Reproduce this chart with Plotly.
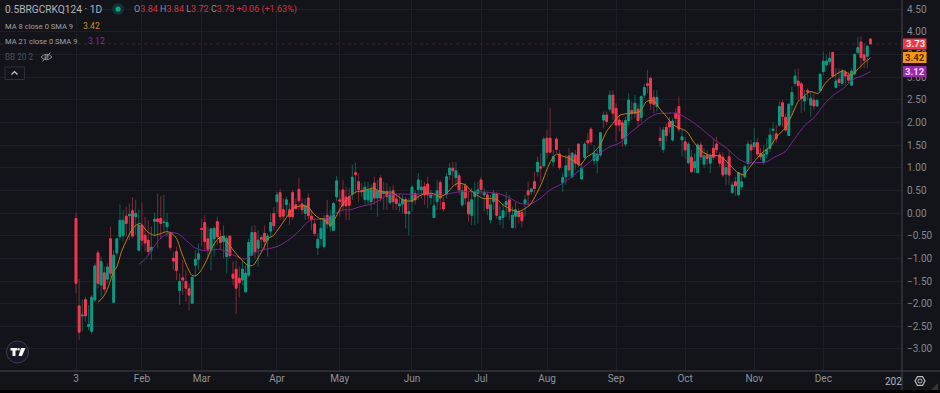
import plotly.graph_objects as go

# ---- data ----
opens = [
-.12,-2.05,-2.27,-1.91,-2.50,-2.61,-1.92,-.88,-1.59,-1.32,
-1.46,-.57,-1.97,-.88,-.52,-.50,-.07,-.06,.05,-.08,
-.82,-.27,-.49,-.60,-.82,-.18,-.13,-.12,-.21,-.30,
-.45,-1.0,-.85,-1.71,-1.43,-1.51,-1.67,-1.99,-1.15,-1.02,
-.34,-.21,-.57,-.80,-.57,-.19,-.54,-.63,-.96,-.51,
-1.35,-1.24,-1.44,-1.48,-1.74,-1.37,-.93,-.43,-.78,-.54,
-.45,-.60,-.40,-.01,.25,.45,.07,.19,
.07,.45,.18,.52,.20,-.01,.33,-.07,-.24,-.77,
-.56,-.74,-.05,-.29,-.38,.36,.29,.51,.35,.36,
.42,.89,.69,.50,.30,.29,.25,.66,.33,.77,
.43,.47,.23,.49,.31,.16,.20,.30,-.02,.25,
.43,.52,.51,.58,.64,.34,-.10,.25,.67,.23,
.42,.85,.99,.78,.82,.18,.60,.24,-.05,.36,
.43,.73,.40,.40,-.15,.25,.43,-.14,-.10,.18,
.29,-.32,-.07,.03,.01,.21,.49,
.47,.69,.91,1.02,1.04,1.65,1.65,1.13,1.63,1.30,
.67,.80,1.26,.80,1.28,1.52,.75,1.23,1.60,1.85,
1.16,1.16,1.28,2.05,2.16,2.29,2.60,2.31,2.05,1.99,
1.52,2.04,2.26,2.20,2.29,2.11,2.60,2.85,2.97,2.55,
2.35,1.65,1.40,1.89,2.01,1.61,2.20,2.35,1.61,1.57,
1.11,1.23,1.0,.89,1.50,1.08,1.28,1.10,1.43,1.52,
1.28,1.23,.86,1.24,.45,.69,.40,.58,.80,1.09,
1.50,1.46,1.55,1.31,1.13,1.30,1.42,1.82,1.75,
1.94,2.43,2.11,1.71,2.38,2.86,2.91,2.85,2.47,2.70,
2.38,2.49,2.36,2.70,3.12,3.27,3.34,3.54,2.77,2.95,
2.86,3.10,3.04,2.82,3.07,3.54,3.77,3.49,3.46,3.84]
highs = [
.01,-1.46,-1.91,-1.85,-2.03,-1.81,-1.11,-.82,-.96,-1.18,
-1.11,-.30,-.82,-.56,.19,.07,.14,.21,.35,.29,
.07,.23,-.08,-.16,-.30,.01,.43,.37,.40,.0,
-.41,-.85,-.74,-1.33,-1.04,-1.26,-1.55,-1.40,-.82,-.67,
-.12,-.05,-.30,-.34,-.30,-.08,-.38,-.27,-.51,-.49,
-1.07,-1.04,-1.18,-1.04,-1.15,-.56,-.28,-.27,-.38,-.49,
-.27,-.45,-.01,.13,.47,.54,.32,.36,
.21,.51,.32,.77,.33,.32,.43,.07,-.12,-.45,
-.16,-.05,.29,.07,.25,.82,.51,.73,.58,.55,
1.07,1.11,.88,.66,.69,.69,.62,.80,.73,.84,
.69,.66,.58,.62,.43,.43,.40,.36,.33,.62,
.51,.88,.73,.69,.80,.51,.40,.73,.73,.36,
.88,1.10,1.12,1.13,.88,.62,.66,.47,.55,.69,
.69,.80,.55,.47,.40,.51,.47,.18,.21,.47,
.40,.14,.25,.10,.07,.40,.69,
.55,.91,1.24,1.32,1.68,1.83,2.32,1.39,1.68,1.39,
.88,1.28,1.43,1.35,1.39,1.54,1.10,1.57,1.76,1.90,
1.50,1.39,1.79,2.24,2.24,2.71,2.71,2.42,2.16,2.05,
2.13,2.64,2.46,2.60,2.42,2.60,2.85,3.16,3.01,2.71,
2.71,1.90,1.90,1.98,2.12,2.09,2.31,2.57,1.85,1.68,
1.57,1.39,1.32,1.54,1.57,1.43,1.39,1.32,1.65,1.68,
1.35,1.35,1.17,1.39,.69,.80,.91,.88,1.06,1.60,
1.61,1.87,1.65,1.43,1.50,1.65,1.88,2.0,1.95,
2.46,2.49,2.20,2.42,2.79,3.17,3.19,2.90,2.71,2.75,
2.68,2.64,2.53,3.08,3.56,3.49,3.56,3.56,3.19,3.19,
3.19,3.15,3.12,3.19,3.52,3.89,3.90,3.74,3.70,3.84]
lows = [
-1.77,-2.80,-2.61,-2.40,-2.58,-2.67,-1.96,-1.66,-1.85,-1.74,
-1.55,-1.41,-1.99,-.96,-.60,-.63,-.52,-.60,-.56,-.49,
-.85,-.74,-.85,-.93,-1.04,-.52,-.78,-.56,-.45,-.52,
-.84,-1.26,-1.48,-2.03,-1.81,-1.96,-2.15,-2.0,-1.40,-1.26,
-.74,-.82,-1.0,-1.26,-.96,-.71,-.82,-1.0,-1.33,-1.0,
-1.59,-2.23,-1.86,-1.59,-1.76,-1.41,-.95,-1.0,-1.19,-.78,
-.82,-.96,-.52,-.38,-.01,-.16,-.16,-.08,
-.26,-.15,.07,.07,-.03,-.15,-.15,-.38,-.52,-.93,
-.71,-.78,-.34,-.41,-.40,.25,-.08,.03,-.16,-.16,
.29,.43,.25,.36,.18,.18,.07,.18,-.08,.25,
.07,.07,.18,.07,.07,.03,-.01,-.34,-.49,.03,
.18,.29,.32,.18,.10,.18,-.12,.07,.07,.03,
.32,.73,.62,.58,.40,.14,.18,-.19,-.27,-.27,
-.23,.40,.03,-.05,-.23,.07,-.12,-.27,-.34,-.08,
-.16,-.34,-.34,-.23,-.32,-.08,.14,
.40,.43,.80,.69,1.0,1.20,1.32,1.02,1.32,.95,
.47,.62,.80,.76,.95,1.02,.73,1.17,1.32,1.50,
1.06,.88,1.24,1.87,1.94,2.24,2.05,1.57,1.80,1.46,
1.46,1.94,2.05,2.09,1.90,2.01,2.53,2.64,2.27,2.20,
2.24,1.46,1.32,1.57,1.76,1.57,1.98,1.79,1.24,1.20,
1.06,.88,.88,.88,1.17,.99,1.06,.88,1.17,1.32,
1.02,.80,.62,.62,.42,.38,.38,.51,.76,1.0,
1.10,1.39,1.24,1.17,1.06,1.20,1.35,1.50,1.55,
1.90,1.90,1.79,1.70,2.16,2.79,2.49,2.20,2.24,2.49,
2.13,2.27,2.34,2.68,3.04,3.23,3.27,2.99,2.75,2.79,
2.80,2.82,2.86,2.80,3.04,3.49,3.19,3.19,3.19,3.72]
closes = [
-1.55,-2.63,-2.25,-2.27,-2.46,-1.86,-1.17,-1.55,-1.07,-1.68,
-1.19,-1.33,-.93,-.57,-.16,-.16,-.23,-.03,-.51,-.01,
-.27,-.60,-.66,-.85,-.76,-.14,-.19,-.23,-.20,-.21,
-.76,-1.06,-1.27,-1.51,-1.48,-1.66,-1.81,-1.42,-1.02,-.90,
-.36,-.63,-.80,-.35,-.34,-.52,-.65,-.51,-.56,-.94,
-1.44,-1.66,-1.54,-1.24,-1.33,-.65,-.43,-.85,-.60,-.58,
-.63,-.51,-.21,-.28,.40,-.08,-.07,.29,
-.08,-.08,.10,.27,.07,.16,-.06,-.14,-.45,-.58,
-.34,-.12,-.24,-.07,.21,.71,.26,.16,.16,.17,
.79,.85,.51,.48,.57,.51,.52,.33,.49,.33,
.47,.36,.43,.25,.21,.20,.30,-.01,.03,.57,
.29,.73,.57,.40,.40,.40,.16,.49,.33,.09,
.80,.99,.93,.93,.51,.49,.33,-.02,.29,.47,
.51,.52,.45,.10,.18,.43,-.05,-.08,.05,.25,
.03,-.05,.07,-.08,-.17,.29,.40,
.53,.54,1.12,.99,1.63,1.34,1.34,1.24,1.40,1.0,
.78,1.04,.95,1.32,1.10,1.07,.99,1.52,1.55,1.57,
1.32,1.30,1.77,2.16,2.02,2.60,2.20,1.94,1.94,1.65,
2.04,2.49,2.20,2.42,2.04,2.57,2.77,2.82,2.42,2.40,
2.55,1.60,1.83,1.71,1.90,2.03,2.09,1.85,1.68,1.39,
1.52,.91,1.13,1.50,1.24,1.26,1.20,1.26,1.23,1.40,
1.10,.84,1.0,.84,.62,.60,.89,.69,1.02,1.52,
1.39,1.55,1.30,1.24,1.30,1.40,1.72,1.85,1.64,
2.35,2.13,1.83,2.40,2.66,3.02,2.81,2.53,2.57,2.67,
2.53,2.36,2.48,3.06,3.35,3.35,3.41,3.02,2.91,2.88,
3.13,3.02,2.93,3.13,3.50,3.65,3.43,3.37,3.68,3.73]
assert len(opens) == len(highs) == len(lows) == len(closes), (len(opens), len(highs), len(lows), len(closes))
bars = list(range(len(opens)))

ma8_bars = [7,8.7,10.3,11.9,13,14.5,16.1,17.7,19.1,20.4,21.4,22.7,24.8,26.8,28.9,30.5,32,33.7,35.2,36.8,37.9,39.5,41.6,43.2,44.8,46.4,48,50.1,52.8,54.9,56.5,58.1,59.7,61.3,62.8,
            65,67,69.2,71.9,74,75.6,77.5,78.8,81,82.5,84,86,87.8,89.4,91,92.6,94.7,96.3,98.4,100.5,102.7,104.8,106.9,109,111,113.8,115.9,118,120.2,121.8,124,125.5,127.6,129.7,131.9,134,136,138.7,140.9,143,
            144.6,146.7,148.5,149.9,151.5,153,154.7,157,159,160.5,162.6,164.8,166.9,169,171,173.3,176.4,179.6,181.7,183.9,186,188,190.3,192.4,194.5,196.6,199.3,202,205,207.7,
            210.4,212.5,214.7,216.8,218.9,221,223.1,225.8,228,230,232.2,233.8,236.4,238.6,240.2,242.3,244.4,247,249.2,250.8,253]
ma8_vals = [-1.97,-1.85,-1.63,-1.30,-1.19,-.85,-.60,-.38,-.27,-.23,-.30,-.41,-.49,-.46,-.41,-.45,-.56,-.89,-1.15,-1.37,-1.39,-1.30,-1.04,-.78,-.60,-.52,-.63,-.82,-1.04,-1.16,-1.15,-.98,-.78,-.56,-.50,
            -.30,-.10,.10,.16,.13,-.01,-.12,-.13,-.27,-.12,.08,.29,.40,.47,.47,.51,.55,.49,.46,.46,.36,.27,.27,.36,.43,.43,.36,.43,.60,.66,.62,.51,.40,.32,.32,.30,.18,.07,.03,.10,
            .18,.43,.69,.95,1.18,1.30,1.26,1.21,1.13,1.05,1.23,1.33,1.50,1.80,1.98,2.16,2.20,2.24,2.46,2.48,2.29,2.13,1.94,1.87,1.80,1.58,1.36,1.27,1.26,1.10,
            .91,.84,1.02,1.20,1.35,1.46,1.68,1.87,2.16,2.46,2.60,2.68,2.64,2.86,2.97,3.07,3.14,3.04,3.19,3.30,3.42]
ma21_bars = [20.1,22,24.1,26.2,28.3,30.5,32.6,35.2,37.9,40.6,43.2,45.9,48.5,51.2,53.8,56.5,59.1,61.8,64.4,
             68.2,71.3,73.5,75.6,78.8,82.5,85.1,87.3,90.5,94.2,96.8,99.5,103.2,107.4,111.7,115.9,119.1,122.3,126.5,130.8,135,138.2,141.4,
             144.6,147.8,151,154.1,157.3,160.5,163.7,166.9,170,173.3,176.4,179.6,182.3,185,188,191.3,194.5,197.7,200.9,204,207.2,
             210.9,213.6,216.8,220,222.6,225.8,229,232.2,235.4,238,241.2,244.4,247.6,250.2,253]
ma21_vals = [-1.13,-1.02,-.82,-.61,-.49,-.43,-.46,-.61,-.77,-.83,-.82,-.80,-.88,-.96,-1.02,-.89,-.82,-.78,-.73,
             -.57,-.38,-.21,-.14,-.14,-.01,.07,.07,.14,.20,.29,.40,.42,.41,.43,.38,.43,.47,.47,.46,.42,.33,.21,
             .20,.32,.51,.62,.77,.95,1.13,1.32,1.46,1.55,1.76,1.94,2.09,2.19,2.20,2.20,2.09,1.94,1.76,1.58,1.43,
             1.20,1.11,1.11,1.13,1.24,1.35,1.65,1.94,2.13,2.38,2.60,2.75,2.95,3.02,3.12]

month_bars = [0,21,40,64,84,107,129,150,172,194,216,238]
month_labels = ["3","Feb","Mar","Apr","May","Jun","Jul","Aug","Sep","Oct","Nov","Dec"]
price_ticks = [4.5,4,3.5,3,2.5,2,1.5,1,.5,0,-.5,-1,-1.5,-2,-2.5,-3]
price_labels = ["4.50","4.00","3.50","3.00","2.50","2.00","1.50","1.00","0.50","0.00",
                "\u22120.50","\u22121.00","\u22121.50","\u22122.00","\u22122.50","\u22123.00"]
last_close = 3.73
last_ma8 = 3.42
last_ma21 = 3.12

# ---- style ----
BG = "#12141a"; GRID = "#1c1f26"; UP = "#0a9c83"; DOWN = "#f7374f"
UPW = "#0f5f53"; DOWNW = "#7c2a37"; ORANGE = "#c47f14"; PURPLE = "#7c2592"
W, H, PW, PH = 940, 393, 902, 371
FONT = "Roboto"

def X(px): return px / PW
def Y(py): return 1 - py / PH

fig = go.Figure()
fig.add_trace(go.Candlestick(x=bars, open=opens, high=highs, low=lows, close=closes,
    whiskerwidth=0, hoverinfo="skip", showlegend=False,
    increasing=dict(line=dict(color=UPW, width=1), fillcolor=UPW),
    decreasing=dict(line=dict(color=DOWNW, width=1), fillcolor=DOWNW)))
fig.add_trace(go.Candlestick(x=bars, open=opens, close=closes,
    high=[max(o, c) for o, c in zip(opens, closes)],
    low=[min(o, c) for o, c in zip(opens, closes)],
    whiskerwidth=0, hoverinfo="skip", showlegend=False,
    increasing=dict(line=dict(color=UP, width=1), fillcolor=UP),
    decreasing=dict(line=dict(color=DOWN, width=1), fillcolor=DOWN)))
fig.add_trace(go.Scatter(x=ma21_bars, y=ma21_vals, mode="lines", hoverinfo="skip", showlegend=False,
    line=dict(color=PURPLE, width=1, shape="spline", smoothing=0.7)))
fig.add_trace(go.Scatter(x=ma8_bars, y=ma8_vals, mode="lines", hoverinfo="skip", showlegend=False,
    line=dict(color=ORANGE, width=1, shape="spline", smoothing=0.7)))

shapes = []
def path(d, fill=None, line=None, width=1, layer="above"):
    shapes.append(dict(type="path", path=d, xref="paper", yref="paper", layer=layer,
                       fillcolor=fill or "rgba(0,0,0,0)",
                       line=dict(color=line or "rgba(0,0,0,0)", width=width if line else 0)))
def poly(points, **kw):
    path("M " + " L ".join(f"{X(a):.5f},{Y(b):.5f}" for a, b in points) + (" Z" if kw.get("fill") else ""), **kw)
def circle(cx, cy, r, fill=None, line=None, width=1):
    shapes.append(dict(type="circle", xref="paper", yref="paper", layer="above",
                       x0=X(cx-r), x1=X(cx+r), y0=Y(cy+r), y1=Y(cy-r),
                       fillcolor=fill or "rgba(0,0,0,0)",
                       line=dict(color=line or "rgba(0,0,0,0)", width=width if line else 0)))

# last price line
shapes.append(dict(type="line", xref="paper", yref="y", x0=0, x1=1, y0=last_close, y1=last_close,
                   layer="below", line=dict(color="#46222b", width=1, dash="dot")))
# axes frame
poly([(0, 371), (940, 371)], line="#45474d")
poly([(902, 0), (902, 390)], line="#45474d")
# bottom strip
shapes.append(dict(type="rect", xref="paper", yref="paper", layer="above",
                   x0=X(0), x1=X(940), y0=Y(393), y1=Y(390), fillcolor="#000000", line=dict(width=0)))
# status dot
circle(118, 9, 6, fill="#10332f")
circle(118, 9, 2.6, fill="#0aa888")
# eye icon
path(f"M {X(41)},{Y(57)} Q {X(46.5)},{Y(51.5)} {X(52)},{Y(57)} Q {X(46.5)},{Y(62.5)} {X(41)},{Y(57)}", line="#8b8e95", width=1)
circle(46.5, 57, 1.6, line="#8b8e95")
poly([(42.5, 61.5), (50.5, 52.5)], line="#8b8e95")
# collapse button
shapes.append(dict(type="rect", xref="paper", yref="paper", layer="above",
                   x0=X(5), x1=X(24.5), y0=Y(79.5), y1=Y(67), fillcolor=BG, line=dict(color="#2d3037", width=1)))
poly([(11.5, 74.5), (14.5, 71.5), (17.5, 74.5)], line="#c9cbd0", width=1.2)
# logo
circle(17.5, 352, 11, fill="#141924", line="#3a3f4c")
poly([(10.5, 348), (17, 348), (17, 350.5), (15.5, 350.5), (15.5, 356), (12.5, 356), (12.5, 350.5), (10.5, 350.5)], fill="#f4f4f4")
circle(18.6, 349.3, 1.3, fill="#f4f4f4")
poly([(21, 348), (25.5, 348), (22, 356), (18.5, 356)], fill="#f4f4f4")
# settings icon
poly([(915, 381), (917.5, 376.7), (922.5, 376.7), (925, 381), (922.5, 385.3), (917.5, 385.3), (915, 381), (917.5, 376.7)], line="#b9bbc0", width=1.2)
circle(920, 381, 2, line="#b9bbc0")
# resize corner
poly([(938, 383), (938, 390), (931, 390)], fill="#34363b")

def txt(x, y, s, color="#b2b5bb", size=10, anchor="left", family=FONT, **kw):
    return dict(text=s, x=X(x), y=Y(y), xref="paper", yref="paper", xanchor=anchor, yanchor="middle",
                showarrow=False, align=anchor, font=dict(family=family, size=size, color=color),
                borderpad=0, borderwidth=0, **kw)

G = "#8c8f96"; R = "#d9303f"
def sp(c, s): return f'<span style="color:{c}">{s}</span>'
ohlc = (sp(G, "O") + sp(R, "3.84") + " " + sp(G, "H") + sp(R, "3.84") + " " + sp(G, "L") + sp(R, "3.72")
        + " " + sp(G, "C") + sp(R, "3.73") + " " + sp(R, "+0.06 (+1.63%)"))
annotations = [
    txt(5, 9.5, "0.5BRGCRKQ124 \u00b7 1D", size=10.2, color="#b2b5bb"),
    txt(134, 9.5, ohlc, size=9),
    txt(5, 26, "MA 8 close 0 SMA 9", size=7.6, color="#9da0a6"),
    txt(83, 26, f"{last_ma8:.2f}", size=8.6, color="#cf8a10"),
    txt(5, 41, "MA 21 close 0 SMA 9", size=7.6, color="#9da0a6"),
    txt(88, 41, f"{last_ma21:.2f}", size=8.6, color="#8a2aa6"),
    txt(5, 57, "BB 20 2", size=8.2, color="#4b4e57"),
    txt(901.5, 381, "202", size=10, color="#b2b5bb", anchor="right"),
]
def price_box_at(x0, py0, py1, bg, value, text_color):
    shapes.append(dict(type="rect", xref="paper", yref="paper", layer="above",
                       x0=X(x0), x1=X(926.5), y0=Y(py1), y1=Y(py0), fillcolor=bg, line=dict(width=0)))
    annotations.append(txt(915, (py0+py1)/2, f"<b>{value:.2f}</b>", size=9.5, color=text_color, anchor="center"))
price_box_at(903, 38.5, 49.5, "#f23645", last_close, "#ffe9ea")
price_box_at(903, 52, 63, "#ff9800", last_ma8, "#4a2e00")
price_box_at(903, 66, 77, "#9c27b0", last_ma21, "#f2dcf6")

fig.update_layout(
    width=W, height=H, margin=dict(l=0, r=W-PW, t=0, b=H-PH),
    paper_bgcolor=BG, plot_bgcolor=BG, showlegend=False, hovermode=False, dragmode=False,
    boxmode="overlay", boxgap=0.2,
    font=dict(family=FONT, color="#85888e", size=10),
    shapes=shapes, annotations=annotations,
    xaxis=dict(range=[-76/3.14, (PW-76)/3.14], rangeslider=dict(visible=False), showline=False, zeroline=False,
               tickmode="array", tickvals=month_bars, ticktext=month_labels, showgrid=True, gridcolor=GRID,
               gridwidth=1, ticks="", tickfont=dict(family=FONT, size=10, color="#8f9297")),
    yaxis=dict(range=[(-371+213)/45.33, 213/45.33], side="right", showline=False, zeroline=False,
               tickmode="array", tickvals=price_ticks, ticktext=price_labels, showgrid=True, gridcolor=GRID,
               gridwidth=1, ticks="", ticklabelposition="outside", ticklabelstandoff=4,
               tickfont=dict(family=FONT, size=10, color="#85888e")),
)
fig.write_html("out.html", config=dict(displayModeBar=False),
               post_script="document.body.style.margin='0';document.body.style.background='#12141a';")
